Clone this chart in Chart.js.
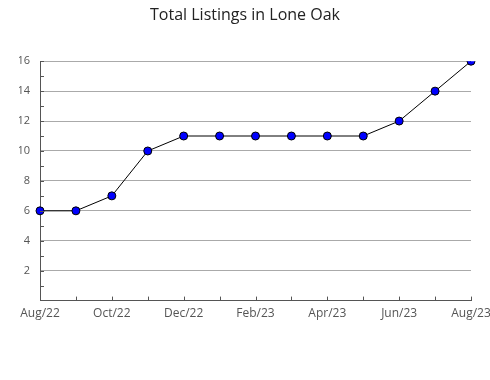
<!DOCTYPE html>
<html>
<head>
<meta charset="utf-8">
<script src="https://cdn.jsdelivr.net/npm/chart.js@4"></script>
<style>
  html, body { margin: 0; padding: 0; background: #fff; }
  #wrap { width: 490px; height: 380px; }
</style>
</head>
<body>
<div id="wrap"><canvas id="chartListings" width="490" height="380"></canvas></div>
<script>
const months = ['Aug/22', 'Sep/22', 'Oct/22', 'Nov/22', 'Dec/22', 'Jan/23', 'Feb/23',
                'Mar/23', 'Apr/23', 'May/23', 'Jun/23', 'Jul/23', 'Aug/23'];
const listings = [6, 6, 7, 10, 11, 11, 11, 11, 11, 11, 12, 14, 16];
const yTicks = [2, 4, 6, 8, 10, 12, 14, 16];

// small inward tick marks on both axes
const innerTicks = {
    id: 'innerTicks',
    afterDatasetsDraw(chart) {
        const c = chart.ctx;
        const x = chart.scales.x, y = chart.scales.y;
        c.save();
        c.strokeStyle = '#555';
        c.lineWidth = 1;
        c.beginPath();
        for (let v = 1; v <= 16; v++) {
            const py = Math.round(y.getPixelForValue(v)) + 0.5;
            c.moveTo(x.left, py);
            c.lineTo(x.left + 4, py);
        }
        for (let i = 1; i < months.length; i++) {
            const px = Math.round(x.getPixelForValue(i)) + 0.5;
            c.moveTo(px, y.bottom);
            c.lineTo(px, y.bottom - 4);
        }
        c.stroke();
        c.restore();
    }
};

const ctx = document.getElementById('chartListings').getContext('2d');
const chartListings = new Chart(ctx, {
    type: 'line',
    data: {
        labels: months,
        datasets: [{
            label: 'Total Listings',
            data: listings,
            borderColor: '#000',
            borderWidth: 1,
            backgroundColor: '#0000ff',
            pointBackgroundColor: '#0000ff',
            pointBorderColor: '#000',
            pointBorderWidth: 1,
            pointRadius: 4,
            tension: 0
        }]
    },
    options: {
        responsive: false,
        animation: false,
        layout: { autoPadding: false, padding: { left: 19, right: 19, top: 0, bottom: 53 } },
        plugins: {
            legend: { display: false },
            tooltip: { enabled: false },
            title: {
                display: true,
                text: 'Total Listings in Lone Oak',
                color: '#222',
                font: { family: 'Open Sans', size: 16, weight: 'normal' },
                padding: { top: 6, bottom: 36 }
            }
        },
        scales: {
            x: {
                offset: false,
                afterFit: s => { s.paddingRight = 0; s.paddingLeft = 0; },
                grid: { display: false, drawTicks: false },
                border: { color: '#555', width: 1 },
                ticks: {
                    autoSkip: false,
                    maxRotation: 0,
                    padding: 6,
                    color: '#555',
                    font: { family: 'Open Sans', size: 12 },
                    callback: (v, i) => i % 2 === 0 ? months[i] : ''
                }
            },
            y: {
                min: 0,
                max: 16,
                afterFit: s => { s.width = 21; },
                grid: {
                    drawTicks: false,
                    color: c => yTicks.includes(c.tick.value) ? '#aaa' : 'rgba(0,0,0,0)'
                },
                border: { color: '#555', width: 1 },
                ticks: {
                    stepSize: 2,
                    padding: 10,
                    color: '#555',
                    font: { family: 'Open Sans', size: 11 },
                    callback: v => yTicks.includes(v) ? v : ''
                }
            }
        }
    },
    plugins: [innerTicks]
});
</script>
</body>
</html>
